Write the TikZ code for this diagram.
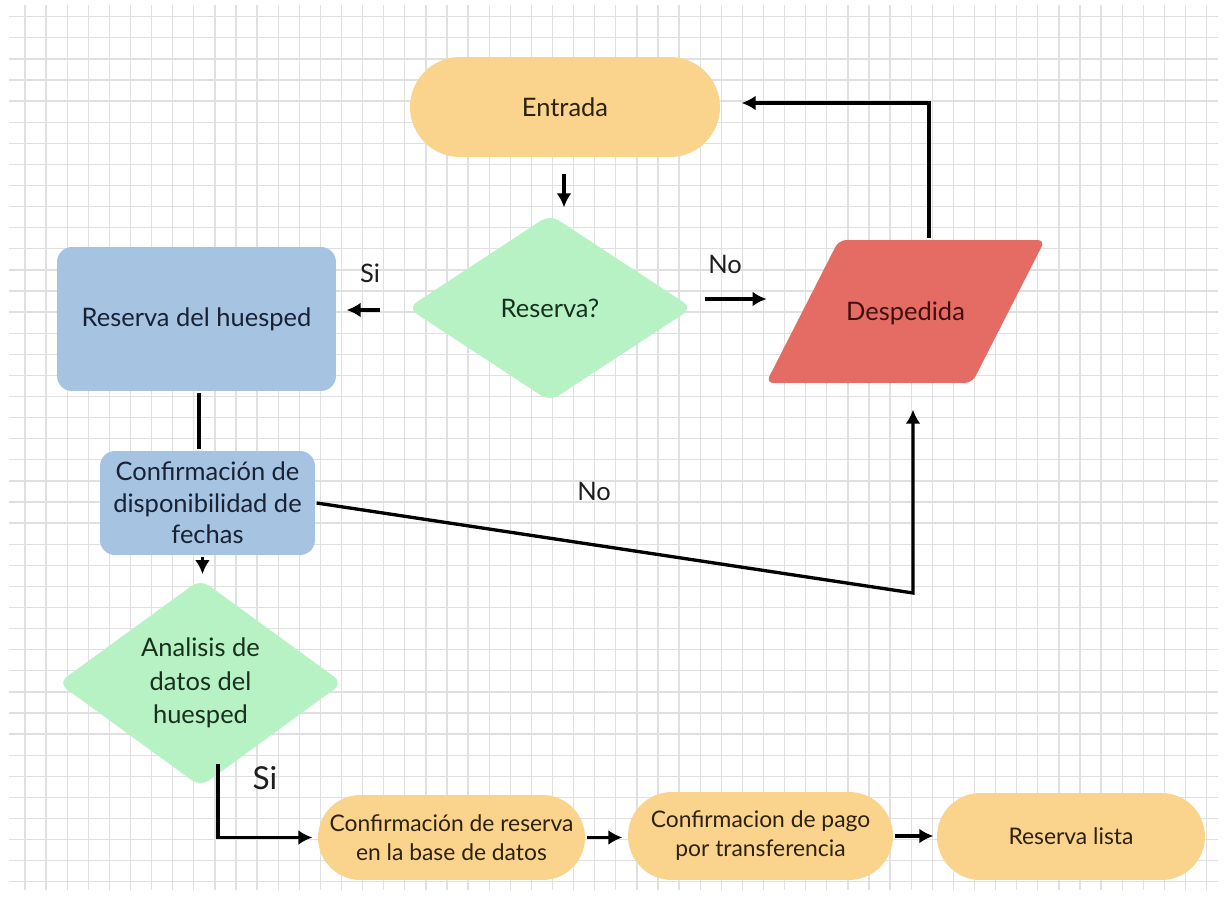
\documentclass[tikz,border=0pt]{standalone}
\usepackage{fontspec}
\setmainfont{Lato}
\usetikzlibrary{arrows.meta}
\usetikzlibrary{shapes.geometric,shapes.misc}
\definecolor{gridgray}{RGB}{224,224,226}
\definecolor{boxorange}{RGB}{250,211,140}
\definecolor{boxgreen}{RGB}{183,242,196}
\definecolor{boxred}{RGB}{229,108,100}
\definecolor{boxblue}{RGB}{166,195,226}
\definecolor{txtbrown}{RGB}{45,34,16}
\definecolor{txtgreen}{RGB}{24,48,30}
\definecolor{txtred}{RGB}{64,16,14}
\definecolor{txtblue}{RGB}{24,34,52}
\definecolor{lblgray}{RGB}{30,30,30}

\begin{document}
\begin{tikzpicture}[x=0.02cm, y=-0.02cm, >={Latex[length=8pt,width=8.5pt]}, line width=1.9pt,
  grid/.style = {draw=gridgray, line width=0.7pt},
  stadium/.style = {rounded rectangle, fill=boxorange, text=txtbrown, align=center, inner sep=0pt, font=\fontsize{13}{16.5}\selectfont},
  decision/.style = {diamond, fill=boxgreen, text=txtgreen, align=center, inner sep=0pt, rounded corners=6pt, minimum width=5.72cm, minimum height=3.76cm, font=\fontsize{14.5}{19}\selectfont},
  bluebox/.style = {rectangle, fill=boxblue, text=txtblue, align=center, inner sep=0pt, rounded corners=0.3cm, font=\fontsize{14.5}{18}\selectfont},
  despedidabox/.style = {trapezium, trapezium left angle=63, trapezium right angle=117, fill=boxred, text=txtred, rounded corners=0.15cm, text width=2.666cm, text height=1.61cm, text depth=1.25cm, align=center, inner sep=0pt, font=\fontsize{14.5}{18}\selectfont},
  lbl/.style = {text=lblgray, inner sep=0pt, font=\fontsize{14.5}{17}\selectfont}]

    % Background grid
    \fill[white] (0,0) rectangle (1225,908);
    \useasboundingbox (0,0) rectangle (1225,908);
    \foreach \gx in {0,...,56} \draw[grid] (25+21.1*\gx,5) -- (25+21.1*\gx,890);
    \foreach \gy in {0,...,41} \draw[grid] (9,16.7+21.1*\gy) -- (1218,16.7+21.1*\gy);

    % Nodes
    \node[stadium, minimum width=6.2cm, minimum height=2cm, font=\fontsize{14.5}{18}\selectfont] (entrada) at (565,107) {Entrada};
    \node[decision] (reserva) at (550,308) {Reserva?};
    \node[despedidabox] (despedida) at (905.5,311.5) {Despedida};
    \node[bluebox, minimum width=5.58cm, minimum height=2.88cm] (huesped) at (196.5,319) {Reserva del huesped};
    \node[bluebox, minimum width=4.3cm, minimum height=2.08cm] (disponible) at (207.5,503) {Confirmación de\\disponibilidad de\\fechas};
    \node[decision] (analisis) at (200.5,683) {Analisis de\\datos del\\huesped};
    \node[stadium, minimum width=5.34cm, minimum height=1.7cm] (confreserva) at (451.5,837.5) {Confirmación de reserva\\en la base de datos};
    \node[stadium, minimum width=5.3cm, minimum height=1.76cm] (confpago) at (760.5,836) {Confirmacion de pago\\por transferencia};
    \node[stadium, minimum width=5.36cm, minimum height=1.74cm] (lista) at (1071,836.5) {Reserva lista};

    \coordinate (noturn) at (913,593);

    % Edges
    \draw[->, shorten <=0.3cm, shorten >=0.1cm] ([xshift=-0.02cm]entrada.south) -- ([xshift=-0.02cm]entrada.south |- reserva.north);
    \draw[->, shorten <=0.5cm, shorten >=0.18cm] ([yshift=-0.04cm]reserva.west) -- ([yshift=-0.04cm]reserva.west -| huesped.east);
    \draw[->, shorten <=0.2cm, shorten >=0.68cm] ([yshift=0.18cm]reserva.east) -- ([yshift=0.18cm]reserva.east -| despedida.west);
    \draw[->, shorten >=0.4cm] ([xshift=0.47cm]despedida.north) |- ([yshift=0.08cm]entrada.east);
    \draw ([xshift=0.05cm]huesped.south) -- ([xshift=0.05cm]huesped.south |- disponible.north);
    \draw[->, shorten >=0.06cm] ([xshift=0.04cm]analisis.north |- disponible.south) -- ([xshift=0.04cm]analisis.north);
    \draw[->, shorten >=0.5cm] (disponible.east) -- (noturn) -- (noturn |- despedida.south);
    \draw[->, shorten >=0.08cm] ([xshift=0.35cm,yshift=0.5cm]analisis.south) |- (confreserva.west);
    \draw[->, shorten >=0.08cm] (confreserva.east) -- (confreserva.east -| confpago.west);
    \draw[->, shorten >=0.04cm] (confpago.east) -- (confpago.east -| lista.west);

    % Labels
    \node[lbl] (sireserva) at (370,273) {Si};
    \node[lbl] (noreserva) at (725,264) {No};
    \node[lbl] (nofechas) at (594,491) {No};
    \node[lbl, font=\fontsize{18}{22}\selectfont] (sianalisis) at (265,778) {Si};

\end{tikzpicture}
\end{document}
